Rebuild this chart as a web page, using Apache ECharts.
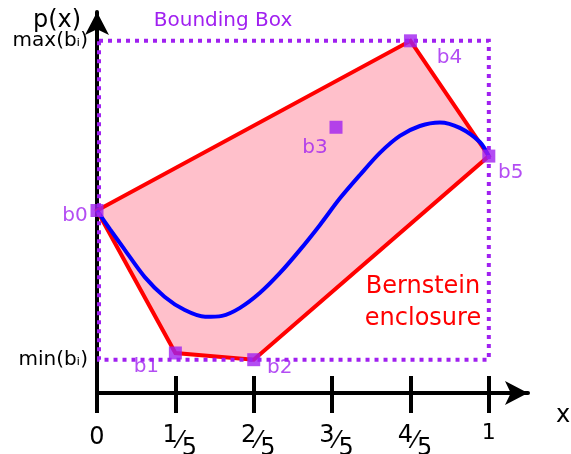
<!DOCTYPE html>
<html><head><meta charset="utf-8">
<script src="https://cdn.jsdelivr.net/npm/echarts@6/dist/echarts.min.js"></script>
<style>html,body{margin:0;padding:0;background:#fff}#c{width:571px;height:454px}</style>
</head><body><div id="c"></div>
<script>
// Control points (Bernstein coefficients)
const pointNames = ['b0', 'b1', 'b2', 'b3', 'b4', 'b5'];
const pointX = [0, 0.2, 0.4, 0.61, 0.8, 1];
const pointY = [0.47, 0.025, 0.004, 0.73, 1.0, 0.64];
// convex hull order (Bernstein enclosure)
const hullOrder = [0, 1, 2, 5, 4];
// p(x) curve
const curveX = [0, 0.033, 0.071, 0.122, 0.173, 0.224, 0.276, 0.319, 0.365, 0.416, 0.467, 0.518, 0.569, 0.620, 0.671, 0.722, 0.773, 0.824, 0.875, 0.926, 0.977, 1];
const curveY = [0.47, 0.412, 0.347, 0.262, 0.200, 0.159, 0.138, 0.141, 0.166, 0.213, 0.275, 0.347, 0.425, 0.508, 0.581, 0.650, 0.703, 0.734, 0.745, 0.728, 0.684, 0.64];
// x ticks
const xTickValues = [0, 0.2, 0.4, 0.6, 0.8, 1];
const xTickLabels = ['0', '1\u20445', '2\u20445', '3\u20445', '4\u20445', '1'];
// y tick labels (min / max of coefficients)
const yTickLabels = ['min(b\u1D62)', 'max(b\u1D62)'];

// layout (not data)
const labelOffsets = [[-22, 5], [-29, 14], [26, 8], [-21, 21], [39, 17], [22, 17]];
const FONT = 'DejaVu Sans';
const PURPLE = '#a020f0';

const yMin = Math.min(...pointY), yMax = Math.max(...pointY);
const xMin = Math.min(...pointX), xMax = Math.max(...pointX);

function xLabel(v) {
  const i = xTickValues.findIndex(t => Math.abs(t - v) < 1e-6);
  if (i < 0) return '';
  const s = xTickLabels[i];
  if (s.indexOf('\u2044') >= 0) {
    const p = s.split('\u2044');
    return '{n|' + p[0] + '}{s|\u2044}{d|' + p[1] + '}';
  }
  return i === 0 ? '{z|' + s + '}' : '{o|' + s + '}';
}

const chart = echarts.init(document.getElementById('c'));
chart.setOption({
  animation: false,
  backgroundColor: '#fff',
  grid: { left: 97, right: 43, top: 12, bottom: 61, containLabel: false, outerBoundsMode: 'none' },
  xAxis: [{
    type: 'value', min: 0, max: 1.1, position: 'bottom',
    axisLine: { show: true, onZero: false, lineStyle: { color: '#000', width: 4 },
      symbol: ['none', 'arrow'], symbolSize: [18, 23], symbolOffset: [0, 0] },
    axisTick: { show: true, inside: false, length: 20, lineStyle: { color: '#000', width: 4 }, customValues: xTickValues },
    axisLabel: { show: true, customValues: xTickValues, margin: 29, formatter: xLabel,
      rich: {
        z: { fontFamily: FONT, fontSize: 24, color: '#000', verticalAlign: 'top', padding: [4, 0, 0, 0] },
        o: { fontFamily: FONT, fontSize: 22, color: '#000', verticalAlign: 'top' },
        n: { fontFamily: FONT, fontSize: 24, color: '#000', verticalAlign: 'top', padding: [2, 0, 0, 9] },
        s: { fontFamily: FONT, fontSize: 24, lineHeight: 39, color: '#000', verticalAlign: 'middle' },
        d: { fontFamily: FONT, fontSize: 24, color: '#000', verticalAlign: 'bottom' }
      } },
    splitLine: { show: false }
  }, {
    type: 'value', min: 0, max: 1.1, position: 'bottom',
    axisLine: { show: false, onZero: false },
    axisTick: { show: true, inside: true, length: 17, lineStyle: { color: '#000', width: 4 }, customValues: xTickValues },
    axisLabel: { show: false },
    splitLine: { show: false }
  }],
  yAxis: {
    type: 'value', min: -0.1, max: 1.09,
    axisLine: { show: true, onZero: false, lineStyle: { color: '#000', width: 4 },
      symbol: ['none', 'arrow'], symbolSize: [18, 23], symbolOffset: [0, 0] },
    axisTick: { show: false },
    axisLabel: { show: true, customValues: [yMin, yMax], margin: 9, color: '#000', fontFamily: FONT, fontSize: 20,
      padding: [8, 0, 0, 0],
      formatter: v => (Math.abs(v - yMax) < 1e-6 ? yTickLabels[1] : yTickLabels[0]) },
    splitLine: { show: false }
  },
  graphic: [
    { type: 'text', x: 57, y: 21, style: { text: 'p(x)', fontFamily: FONT, fontSize: 24, fill: '#000', align: 'center', verticalAlign: 'middle' } },
    { type: 'text', x: 563, y: 416, style: { text: 'x', fontFamily: FONT, fontSize: 24, fill: '#000', align: 'center', verticalAlign: 'middle' } },
    { type: 'text', x: 223, y: 21, style: { text: 'Bounding Box', fontFamily: FONT, fontSize: 20, fill: PURPLE, align: 'center', verticalAlign: 'middle' } },
    { type: 'text', x: 423, y: 303, style: { text: 'Bernstein\nenclosure', fontFamily: FONT, fontSize: 24, lineHeight: 32, fill: '#ff0000', align: 'center', verticalAlign: 'middle' } },
    { type: 'text', x: 302, y: 213, style: { text: 'p(x)', fontFamily: FONT, fontSize: 20, fill: '#0000ff', align: 'center', verticalAlign: 'middle' } }
  ],
  series: [{
    type: 'custom', coordinateSystem: 'cartesian2d', z: 1, silent: true, clip: false,
    data: [[0, 0]],
    renderItem: (params, api) => {
      const pts = hullOrder.map(i => api.coord([pointX[i], pointY[i]]));
      return { type: 'polygon', shape: { points: pts },
        style: { fill: '#ffc0cb', stroke: '#ff0000', lineWidth: 4, lineJoin: 'miter' } };
    }
  }, {
    type: 'line', z: 3, silent: true,
    data: curveX.map((x, i) => [x, curveY[i]]),
    showSymbol: false, smooth: 0.3,
    lineStyle: { color: '#0000ff', width: 4 }
  }, {
    type: 'scatter', z: 4, silent: true,
    symbol: 'rect', symbolSize: 13,
    itemStyle: { color: PURPLE },
    label: { show: true, position: 'inside', formatter: '{b}', color: PURPLE, fontFamily: FONT, fontSize: 20, textBorderWidth: 0 },
    data: pointX.map((x, i) => ({ value: [x, pointY[i]], name: pointNames[i], label: { offset: labelOffsets[i] } }))
  }, {
    type: 'custom', coordinateSystem: 'cartesian2d', z: 5, silent: true, clip: false,
    data: [[0, 0]],
    renderItem: (params, api) => {
      const a = api.coord([xMin, yMax]);
      const b = api.coord([xMax, yMin]);
      return { type: 'rect', shape: { x: a[0] + 2, y: a[1], width: b[0] - a[0] - 2, height: b[1] - a[1] },
        style: { fill: null, stroke: PURPLE, lineWidth: 4, lineDash: [4, 5] } };
    }
  }]
});
</script>
</body></html>
